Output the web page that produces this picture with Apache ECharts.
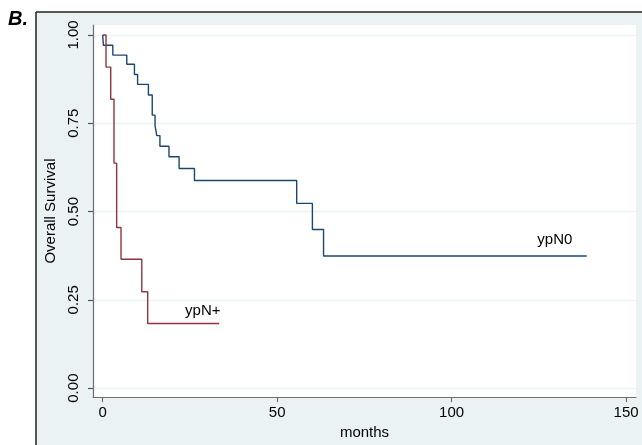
<!DOCTYPE html>
<html><head><meta charset="utf-8">
<script src="https://cdn.jsdelivr.net/npm/echarts@6/dist/echarts.min.js"></script>
<style>html,body{margin:0;padding:0;background:#fff}#c{width:642px;height:445px}</style>
</head><body><div id="c"></div>
<script>
// Tick labels
const xTicks = [0, 50, 100, 150];
const yTicks = [0, 0.25, 0.5, 0.75, 1];
// Kaplan-Meier curves: [months, survival]
const seriesNames = ['ypN0', 'ypN+'];
const ypN0 = [[0,1],[0.2,0.971],[2.9,0.943],[6.9,0.917],[9.1,0.888],[10.0,0.860],[13.1,0.830],[14.2,0.773],[15.0,0.743],[15.5,0.715],[16.4,0.685],[19.0,0.655],[21.9,0.622],[26.3,0.588],[55.6,0.523],[60.1,0.449],[63.3,0.374],[138.7,0.374]];
const ypNplus = [[0,1],[0.95,0.909],[2.3,0.818],[3.24,0.637],[4.0,0.455],[5.25,0.365],[11.2,0.273],[12.9,0.183],[33.4,0.183]];

const FONT = 'Liberation Sans, Arial, Helvetica, sans-serif';
const chart = echarts.init(document.getElementById('c'), null, {renderer:'canvas'});
const axisGray = '#6e6e6e';
chart.setOption({
  animation: false,
  backgroundColor: '#eaf2f3',
  grid: {left: 93, top: 25, width: 543, height: 373, show: true, backgroundColor: '#ffffff', borderWidth: 0},
  xAxis: {
    type: 'value', min: -2.78, max: 152.85,
    axisLine: {show: true, onZero: false, lineStyle: {color: axisGray, width: 1.2}},
    axisTick: {show: true, length: 5, customValues: xTicks, lineStyle: {color: axisGray, width: 1.2}},
    axisLabel: {customValues: xTicks, color: '#000', fontSize: 15, margin: 8, fontFamily: FONT},
    splitLine: {show: false},
    name: 'months', nameLocation: 'middle', nameGap: 24,
    nameTextStyle: {color: '#000', fontSize: 15, fontFamily: FONT}
  },
  yAxis: {
    type: 'value', min: -0.0254, max: 1.0282,
    axisLine: {show: true, onZero: false, lineStyle: {color: axisGray, width: 1.2}},
    axisTick: {show: true, length: 5, customValues: yTicks, lineStyle: {color: '#555', width: 1.2}},
    axisLabel: {customValues: yTicks, rotate: 90, color: '#000', fontSize: 15, margin: 12, fontFamily: FONT,
      formatter: v => v.toFixed(2)},
    splitLine: {show: true, lineStyle: {color: '#eaf2f3', width: 1.3}},
    name: 'Overall Survival', nameLocation: 'middle', nameGap: 34, nameRotate: 90,
    nameTextStyle: {color: '#000', fontSize: 15, fontFamily: FONT}
  },
  series: [
    {name: seriesNames[0], type: 'line', step: 'end', symbol: 'none', data: ypN0,
      lineStyle: {color: '#1a476f', width: 1.4}, itemStyle: {color: '#1a476f'},
      markPoint: {symbol: 'circle', symbolSize: 0, silent: true,
        label: {show: true, position: 'inside', formatter: seriesNames[0], color: '#000', fontSize: 15, fontFamily: FONT},
        data: [{coord: [129.6, 0.421]}]}},
    {name: seriesNames[1], type: 'line', step: 'end', symbol: 'none', data: ypNplus,
      lineStyle: {color: '#90353b', width: 1.4}, itemStyle: {color: '#90353b'},
      markPoint: {symbol: 'circle', symbolSize: 0, silent: true,
        label: {show: true, position: 'inside', formatter: seriesNames[1], color: '#000', fontSize: 15, fontFamily: FONT},
        data: [{coord: [28.7, 0.219]}]}}
  ],
  graphic: [
    {type: 'rect', shape: {x: 0, y: 0, width: 642, height: 12}, style: {fill: '#fff'}, z: 100},
    {type: 'rect', shape: {x: 0, y: 0, width: 36, height: 445}, style: {fill: '#fff'}, z: 100},
    {type: 'line', shape: {x1: 36, y1: 12, x2: 642, y2: 12}, style: {stroke: '#222', lineWidth: 1.5}, z: 101},
    {type: 'line', shape: {x1: 36, y1: 12, x2: 36, y2: 445}, style: {stroke: '#222', lineWidth: 1.5}, z: 101},
    {type: 'text', left: 8, top: 9, style: {text: 'B.', font: 'italic bold 20px ' + FONT, fill: '#000'}, z: 102}
  ]
});
</script>
</body></html>
